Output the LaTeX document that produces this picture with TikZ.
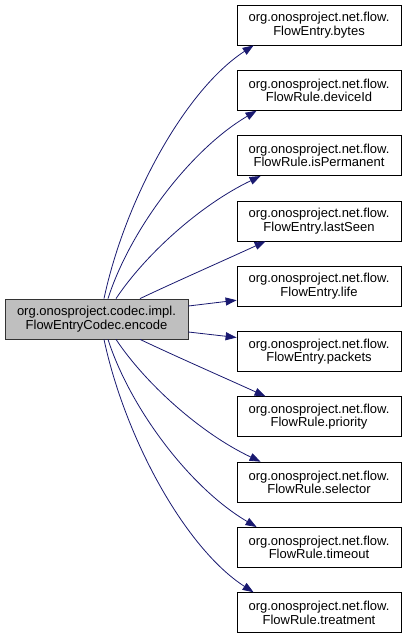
\documentclass[tikz,border=0pt]{standalone}
\usepackage{fontspec}
\setmainfont{Liberation Sans}
\usetikzlibrary{arrows.meta,calc}
\definecolor{edgeblue}{HTML}{191970}
\definecolor{grey75}{HTML}{BFBFBF}
\begin{document}
\begin{tikzpicture}[x=1pt,y=-1pt,
  box/.style={draw=black,line width=0.8pt,minimum width=164pt,minimum height=40pt,inner sep=0pt,align=center,
    font=\fontsize{13}{13.5}\selectfont},
  mainbox/.style={box,fill=grey75,draw=black!80,minimum width=183pt},
  conn/.style={draw=edgeblue,line width=0.8pt,-{Triangle[length=11pt,width=8pt]}}]
\useasboundingbox (0,0) rectangle (408,639);
\node[mainbox] (L) at (96.5,319) {org.onosproject.codec.impl.\\FlowEntryCodec.encode};
\node[box] (R0) at (319,25.0) {org.onosproject.net.flow.\\FlowEntry.bytes};
\node[box] (R1) at (319,90.3) {org.onosproject.net.flow.\\FlowRule.deviceId};
\node[box] (R2) at (319,155.6) {org.onosproject.net.flow.\\FlowRule.isPermanent};
\node[box] (R3) at (319,220.9) {org.onosproject.net.flow.\\FlowEntry.lastSeen};
\node[box] (R4) at (319,286.2) {org.onosproject.net.flow.\\FlowEntry.life};
\node[box] (R5) at (319,351.5) {org.onosproject.net.flow.\\FlowEntry.packets};
\node[box] (R6) at (319,416.8) {org.onosproject.net.flow.\\FlowRule.priority};
\node[box] (R7) at (319,482.1) {org.onosproject.net.flow.\\FlowRule.selector};
\node[box] (R8) at (319,547.4) {org.onosproject.net.flow.\\FlowRule.timeout};
\node[box] (R9) at (319,612.7) {org.onosproject.net.flow.\\FlowRule.treatment};
% upper edges
\draw[conn] ($(L.north)+(7.5,0)$) .. controls (125,200) and (185,90) .. ($(R0.south west)+(17,0)$);
\draw[conn] ($(L.north)+(11.5,0)$) .. controls (130,230) and (190,150) .. ($(R1.south west)+(20,0)$);
\draw[conn] ($(L.north)+(19.5,0)$) .. controls (145,255) and (200,205) .. ($(R2.south west)+(24,0)$);
\draw[conn] ($(L.north)+(43.5,0)$) .. controls (175,282) and (225,260) .. ($(R3.south west)+(29,0)$);
% side edges
\draw[conn] ($(L.east)+(0,-13)$) -- ($(R4.west)+(0,14)$);
\draw[conn] ($(L.east)+(0,13)$) -- ($(R5.west)+(0,-14)$);
% lower edges
\draw[conn] ($(L.south)+(43.5,0)$) .. controls (175,356) and (225,378) .. ($(R6.north west)+(29,0)$);
\draw[conn] ($(L.south)+(19.5,0)$) .. controls (145,383) and (200,433) .. ($(R7.north west)+(24,0)$);
\draw[conn] ($(L.south)+(11.5,0)$) .. controls (130,408) and (190,488) .. ($(R8.north west)+(20,0)$);
\draw[conn] ($(L.south)+(7.5,0)$) .. controls (125,438) and (185,548) .. ($(R9.north west)+(17,0)$);
\end{tikzpicture}
\end{document}
